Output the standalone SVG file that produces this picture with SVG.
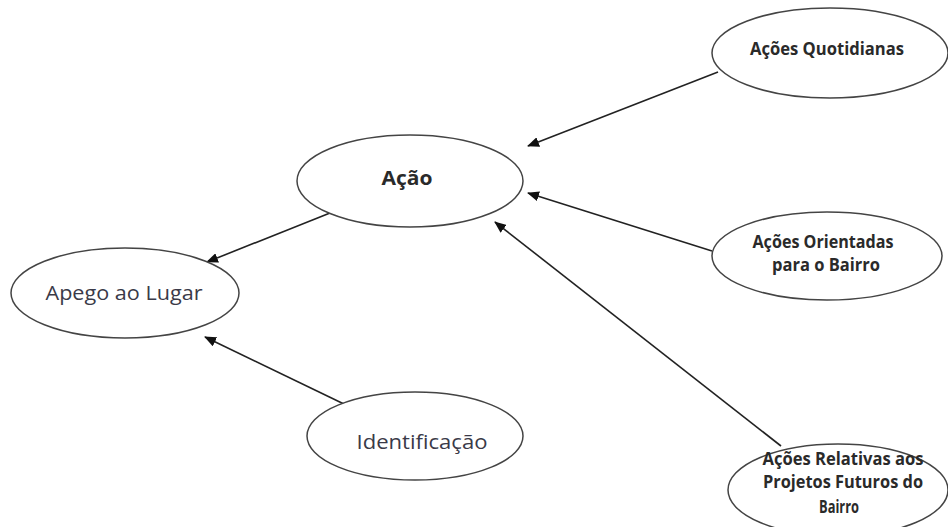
<svg xmlns="http://www.w3.org/2000/svg" width="948" height="527" viewBox="0 0 948 527">
<defs>
<style>
.n ellipse{fill:#fff;stroke:#444;stroke-width:1.5}
.b{font-family:"Open Sans","Noto Sans",sans-serif;font-weight:bold;fill:#2a2a2a;text-anchor:middle;font-size:17px}
.r{font-family:"Open Sans","Noto Sans",sans-serif;fill:#3a3a48;text-anchor:middle;font-size:20px}
.c line{stroke:#222;stroke-width:1.6;marker-end:url(#ah)}
</style>
<marker id="ah" viewBox="0 0 12 10" refX="11" refY="5" markerWidth="12" markerHeight="10" markerUnits="userSpaceOnUse" orient="auto">
<path d="M0,0 L12,5 L0,10 Z" fill="#111"/>
</marker>
</defs>
<rect width="948" height="527" fill="#fff"/>
<g class="c">
<line x1="718" y1="72" x2="528" y2="146"/>
<line x1="712" y1="251" x2="528" y2="193"/>
<line x1="781" y1="446" x2="495" y2="222"/>
<line x1="330" y1="213" x2="207" y2="262"/>
<line x1="346" y1="405" x2="205" y2="337"/>
</g>
<g id="acao" class="n"><ellipse cx="410" cy="181" rx="113" ry="46"/><text class="b" x="407" y="185" style="font-size:19px" textLength="51" lengthAdjust="spacingAndGlyphs">Ação</text></g>
<g id="quotidianas" class="n"><ellipse cx="830" cy="53" rx="118" ry="45"/><text class="b" x="827" y="55" textLength="154" lengthAdjust="spacingAndGlyphs">Ações Quotidianas</text></g>
<g id="orientadas" class="n"><ellipse cx="827" cy="256" rx="115" ry="44"/><text class="b" x="823" y="248" textLength="141" lengthAdjust="spacingAndGlyphs">Ações Orientadas</text><text class="b" x="826" y="271" textLength="108" lengthAdjust="spacingAndGlyphs">para o Bairro</text></g>
<g id="relativas" class="n"><ellipse cx="838" cy="490" rx="110" ry="46"/><text class="b" x="843" y="465" textLength="161" lengthAdjust="spacingAndGlyphs">Ações Relativas aos</text><text class="b" x="843" y="488" textLength="160" lengthAdjust="spacingAndGlyphs">Projetos Futuros do</text><text class="b" x="839" y="513" textLength="40" lengthAdjust="spacingAndGlyphs">Bairro</text></g>
<g id="apego" class="n"><ellipse cx="125" cy="293" rx="114" ry="45"/><text class="r" x="124" y="300" textLength="157" lengthAdjust="spacingAndGlyphs">Apego ao Lugar</text></g>
<g id="identificacao" class="n"><ellipse cx="415" cy="436" rx="108" ry="44"/><text class="r" x="422" y="449" textLength="131" lengthAdjust="spacingAndGlyphs">Identificação</text></g>
</svg>
